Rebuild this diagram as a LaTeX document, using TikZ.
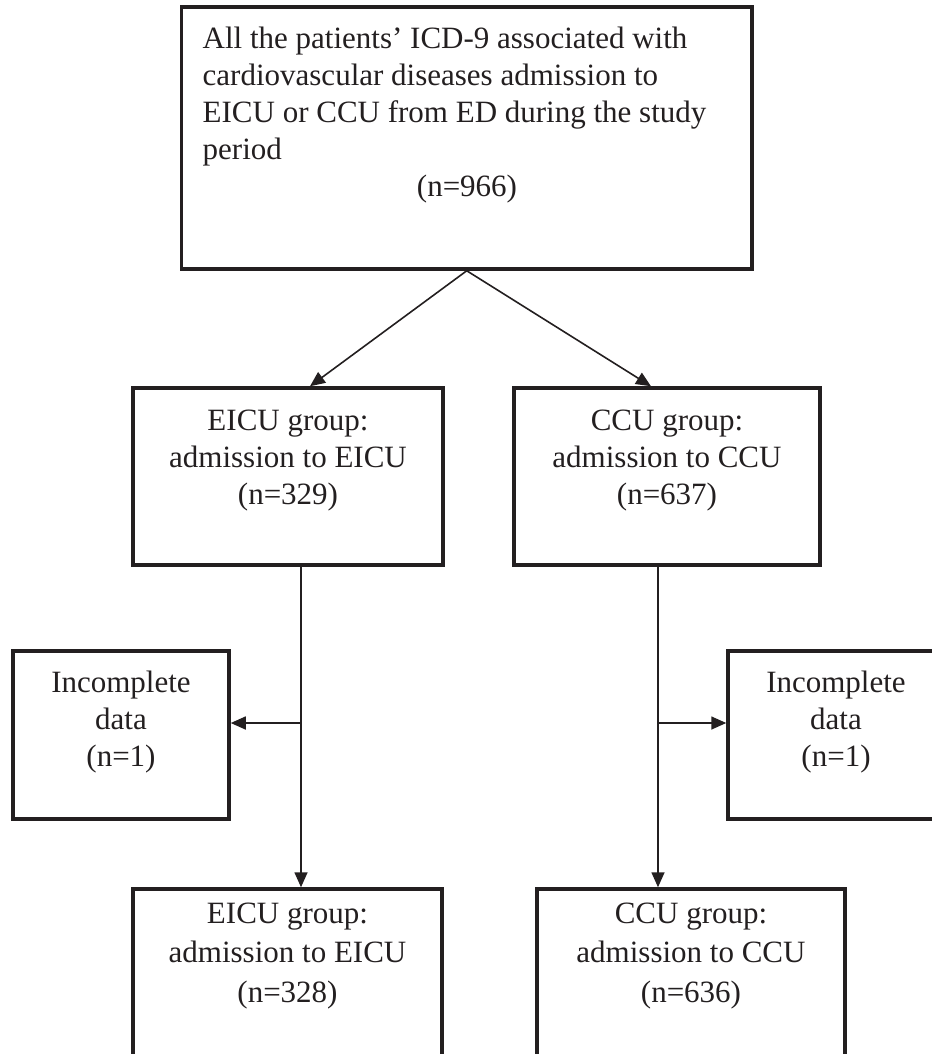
\documentclass[tikz,border=0pt]{standalone}
\usepackage{fontspec}
\setmainfont{Liberation Serif}
\usetikzlibrary{arrows.meta}
\definecolor{ink}{HTML}{231F20}
\newcommand{\mlines}[2][c]{\begin{tabular}[t]{@{}#1@{}}#2\end{tabular}}
\begin{document}
\begin{tikzpicture}[x=1bp,y=-1bp,
  box/.style={draw=ink, line width=3.5bp, rectangle, inner sep=0pt},
  txt/.style={inner sep=0pt, anchor=base, text=ink, font=\fontsize{31bp}{37bp}\selectfont},
  wide/.style={font=\fontsize{31bp}{39.5bp}\selectfont},
  arr/.style={draw=ink, line width=1.6bp, -{Triangle[length=15bp,width=13bp]}}]
\useasboundingbox (0,0) rectangle (932,1054);
\clip (0,0) rectangle (932,1054);
% boxes
\node[box, minimum width=570.5bp, minimum height=262bp] (top) at (466.75,138) {};
\node[box, minimum width=310bp, minimum height=177bp] (eicu1) at (288,476.5) {};
\node[box, minimum width=306bp, minimum height=177bp] (ccu1) at (667,476.5) {};
\node[box, minimum width=216bp, minimum height=168bp] (inc1) at (121,735) {};
\node[box, minimum width=216bp, minimum height=168bp] (inc2) at (836,735) {};
\node[box, minimum width=309bp, minimum height=186bp] (eicu2) at (287.5,982) {};
\node[box, minimum width=308bp, minimum height=186bp] (ccu2) at (691,982) {};
% texts
\node[txt, anchor=base west] (topt) at (202.5,48) {\mlines[l]{All the patients’ ICD-9 associated with\\cardiovascular diseases admission to\\EICU or CCU from ED during the study\\period}};
\node[txt] (topn) at (467,196) {(n=966)};
\node[txt] (eicu1t) at (288,430) {\mlines{EICU group:\\admission to EICU\\(n=329)}};
\node[txt] (ccu1t) at (667,430) {\mlines{CCU group:\\admission to CCU\\(n=637)}};
\node[txt] (inc1t) at (121,692) {\mlines{Incomplete\\data\\(n=1)}};
\node[txt] (inc2t) at (836,692) {\mlines{Incomplete\\data\\(n=1)}};
\node[txt, wide] (eicu2t) at (287.5,923) {\mlines{EICU group:\\admission to EICU\\(n=328)}};
\node[txt, wide] (ccu2t) at (691,923) {\mlines{CCU group:\\admission to CCU\\(n=636)}};
% connectors
\draw[arr] (top.south) -- (eicu1.north -| 310,0);
\draw[arr] (top.south) -- (ccu1.north -| 651,0);
\coordinate (bL) at (301,723);
\coordinate (bR) at (658,723);
\draw[arr] (eicu1.south -| bL) -- (eicu2.north -| bL);
\draw[arr] (ccu1.south -| bR) -- (ccu2.north -| bR);
\draw[arr] (bL) -- (inc1.east |- bL);
\draw[arr] (bR) -- (inc2.west |- bR);
\end{tikzpicture}
\end{document}
